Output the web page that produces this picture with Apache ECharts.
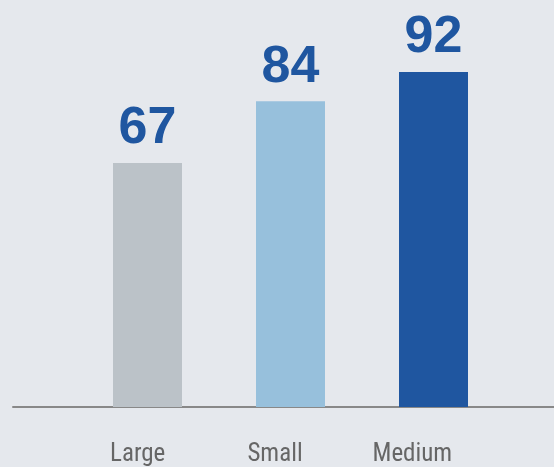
<!DOCTYPE html>
<html>
<head>
<meta charset="utf-8">
<style>
  html, body { margin: 0; padding: 0; background: #e5e8ed; }
  #chart { width: 554px; height: 467px; }
</style>
<script src="https://cdn.jsdelivr.net/npm/echarts@6/dist/echarts.min.js"></script>
</head>
<body>
<div id="chart"></div>
<script>
const categories = ['Large', 'Small', 'Medium'];
const values = [67, 84, 92];
const barColors = ['#bbc2c8', '#97c0dc', '#1f56a0'];

const chart = echarts.init(document.getElementById('chart'), null, { renderer: 'canvas' });

const hidden = { show: false };

chart.setOption({
  backgroundColor: '#e5e8ed',
  animation: false,
  grid: [
    // bars
    { left: 76, right: 49, top: 43, bottom: 60 },
    // category names
    { left: 69, width: 412, top: 43, bottom: 60 },
    // baseline
    { left: 13, right: -10, top: 43, bottom: 60 }
  ],
  xAxis: [
    {
      gridIndex: 0, type: 'category', data: categories,
      axisLine: hidden, axisTick: hidden, axisLabel: hidden
    },
    {
      gridIndex: 1, type: 'category', data: categories,
      axisLine: hidden, axisTick: hidden,
      axisLabel: {
        margin: 38,
        fontSize: 25,
        color: '#666666',
        fontFamily: "'Roboto Condensed', 'Liberation Sans Narrow', 'Arial Narrow', Roboto, sans-serif"
      }
    },
    {
      gridIndex: 2, type: 'value', min: 0, max: 1,
      axisLine: { show: true, lineStyle: { color: '#888888', width: 2 } },
      axisTick: hidden, axisLabel: hidden, splitLine: hidden
    }
  ],
  yAxis: [
    { gridIndex: 0, type: 'value', min: 0, max: 100, axisLine: hidden, axisTick: hidden, axisLabel: hidden, splitLine: hidden },
    { gridIndex: 1, type: 'value', min: 0, max: 100, axisLine: hidden, axisTick: hidden, axisLabel: hidden, splitLine: hidden },
    { gridIndex: 2, type: 'value', min: 0, max: 100, axisLine: hidden, axisTick: hidden, axisLabel: hidden, splitLine: hidden }
  ],
  series: [{
    type: 'bar',
    xAxisIndex: 0,
    yAxisIndex: 0,
    barWidth: 69,
    data: values.map((v, i) => ({ value: v, itemStyle: { color: barColors[i] } })),
    label: {
      show: true,
      position: 'top',
      distance: 8,
      fontSize: 52,
      fontWeight: 'bold',
      color: '#1f56a0',
      fontFamily: "'Liberation Sans', Arial, Helvetica, sans-serif"
    }
  }]
});
</script>
</body>
</html>
